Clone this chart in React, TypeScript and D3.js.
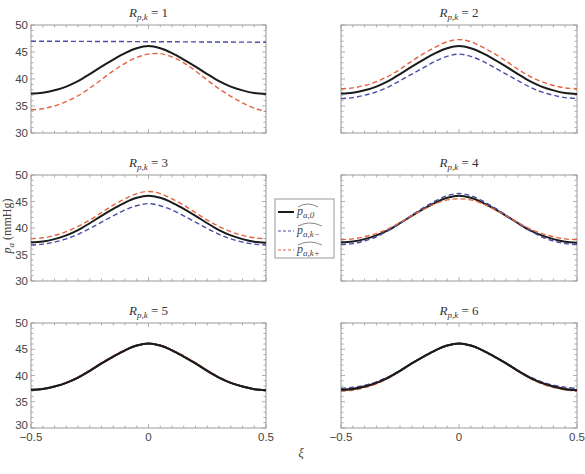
import * as d3 from "d3";

// sample positions along xi
const xiValues = [-0.5, -0.45, -0.4, -0.35, -0.3, -0.25, -0.2, -0.15, -0.1, -0.05, 0, 0.05, 0.1, 0.15, 0.2, 0.25, 0.3, 0.35, 0.4, 0.45, 0.5];

// baseline pressure p_a,0 (same in every panel)
const pBase = [37.3, 37.45, 37.9, 38.6, 39.6, 40.9, 42.3, 43.6, 44.8, 45.7, 46.1, 45.7, 44.8, 43.6, 42.3, 40.9, 39.6, 38.6, 37.9, 37.4, 37.2];

// p_a,k- for R = 1..6
const pMinus1 = [47.0, 47.0, 46.99, 46.98, 46.97, 46.96, 46.95, 46.94, 46.93, 46.92, 46.91, 46.9, 46.89, 46.88, 46.87, 46.86, 46.85, 46.84, 46.83, 46.82, 46.8];
const pMinus2 = [36.4, 36.55, 37.0, 37.6, 38.5, 39.7, 40.9, 42.1, 43.3, 44.2, 44.6, 44.2, 43.3, 42.1, 40.9, 39.7, 38.5, 37.6, 37.0, 36.55, 36.4];
const pMinus3 = [36.8, 36.95, 37.35, 37.95, 38.8, 39.9, 41.1, 42.3, 43.4, 44.2, 44.6, 44.2, 43.4, 42.3, 41.1, 39.9, 38.8, 37.95, 37.35, 36.95, 36.8];
const pMinus4 = [36.9, 37.05, 37.55, 38.35, 39.5, 40.9, 42.4, 43.85, 45.1, 46.1, 46.5, 46.1, 45.1, 43.85, 42.4, 40.9, 39.5, 38.35, 37.55, 37.05, 36.9];
const pMinus5 = [37.3, 37.4, 37.95, 38.6, 39.6, 40.95, 42.3, 43.6, 44.85, 45.75, 46.1, 45.75, 44.85, 43.6, 42.3, 40.95, 39.6, 38.6, 37.9, 37.4, 37.2];
const pMinus6 = [37.6, 37.75, 38.15, 38.8, 39.75, 40.95, 42.3, 43.6, 44.8, 45.7, 46.1, 45.7, 44.8, 43.6, 42.3, 40.95, 39.75, 38.8, 38.15, 37.75, 37.55];

// p_a,k+ for R = 1..6
const pPlus1 = [34.3, 34.5, 35.0, 35.8, 36.9, 38.3, 39.9, 41.5, 42.9, 44.0, 44.6, 44.7, 44.1, 43.0, 41.5, 39.8, 38.2, 36.8, 35.6, 34.6, 34.0];
const pPlus2 = [38.2, 38.35, 38.8, 39.5, 40.5, 41.8, 43.3, 44.7, 45.9, 46.9, 47.3, 46.9, 45.9, 44.7, 43.3, 41.8, 40.5, 39.5, 38.8, 38.35, 38.2];
const pPlus3 = [38.0, 38.15, 38.6, 39.3, 40.3, 41.5, 42.9, 44.3, 45.5, 46.5, 46.9, 46.5, 45.5, 44.3, 42.9, 41.5, 40.3, 39.3, 38.6, 38.15, 38.0];
const pPlus4 = [37.8, 37.95, 38.35, 38.95, 39.85, 41.0, 42.3, 43.5, 44.6, 45.3, 45.5, 45.3, 44.6, 43.5, 42.3, 41.0, 39.85, 38.95, 38.35, 37.95, 37.8];
const pPlus5 = [37.3, 37.5, 37.9, 38.7, 39.7, 41.0, 42.45, 43.75, 44.9, 45.7, 46.0, 45.7, 44.9, 43.75, 42.45, 41.0, 39.7, 38.7, 37.95, 37.45, 37.25];
const pPlus6 = [37.05, 37.2, 37.7, 38.4, 39.45, 40.8, 42.25, 43.6, 44.8, 45.7, 46.1, 45.7, 44.8, 43.6, 42.25, 40.8, 39.45, 38.4, 37.7, 37.25, 37.0];

const rValues = [1, 2, 3, 4, 5, 6];
const minusSeries = [pMinus1, pMinus2, pMinus3, pMinus4, pMinus5, pMinus6];
const plusSeries = [pPlus1, pPlus2, pPlus3, pPlus4, pPlus5, pPlus6];

const yTickLabels = [30, 35, 40, 45, 50];
const xTickLabels = [-0.5, 0, 0.5];

const W = 585;
const H = 474;
const colLeft = [31, 341];
const colRight = [266, 577];
const rowTop = [25, 175, 323];
const rowBottom = [133, 281, 428];

const BLACK = "#1b1b1b";
const BLUE = "#4a4ca6";
const RED = "#e4633d";
const FRAME = "#9a9a9a";
const TICKTXT = "#444";

const serif = "'Liberation Serif', 'Times New Roman', serif";
const sans = "'Liberation Sans', Arial, sans-serif";

function fmt(v: number) {
  if (v === 0) return "0";
  return (v < 0 ? "\u22120" : "0") + "." + String(Math.abs(v)).split(".")[1];
}

function Panel({ idx }: { idx: number }) {
  const col = idx % 2;
  const row = Math.floor(idx / 2);
  const x = d3.scaleLinear().domain([-0.5, 0.5]).range([colLeft[col], colRight[col]]);
  const y = d3.scaleLinear().domain([30, 50]).range([rowBottom[row], rowTop[row]]);
  const line = d3
    .line<number>()
    .x((_, i) => x(xiValues[i]))
    .y((d) => y(d))
    .curve(d3.curveCatmullRom);

  const xMinor = d3.range(-0.5, 0.5001, 0.05);
  const yMinor = d3.range(30, 50.001, 1);
  const [x0, x1] = x.range();
  const [y0, y1] = y.range();

  return (
    <g>
      <rect x={x0} y={y1} width={x1 - x0} height={y0 - y1} fill="white" stroke={FRAME} strokeWidth={1} />
      {xMinor.map((t, i) => {
        const len = i % 10 === 0 ? 4 : 2.5;
        return (
          <g key={"xt" + i} stroke={FRAME} strokeWidth={0.8}>
            <line x1={x(t)} x2={x(t)} y1={y0} y2={y0 - len} />
            <line x1={x(t)} x2={x(t)} y1={y1} y2={y1 + len} />
          </g>
        );
      })}
      {yMinor.map((t, i) => {
        const len = t % 5 === 0 ? 4 : 2.5;
        return (
          <g key={"yt" + i} stroke={FRAME} strokeWidth={0.8}>
            <line x1={x0} x2={x0 + len} y1={y(t)} y2={y(t)} />
            <line x1={x1} x2={x1 - len} y1={y(t)} y2={y(t)} />
          </g>
        );
      })}
      {col === 0 &&
        yTickLabels.map((t) => (
          <text
            key={"yl" + t}
            x={x0 - 3}
            y={y(t) + (row === 2 && t === 30 ? 1 : 4)}
            textAnchor="end"
            fontFamily={sans}
            fontSize={11.5}
            fill={TICKTXT}
          >
            {t}
          </text>
        ))}
      {row === 2 &&
        xTickLabels.map((t) => (
          <text key={"xl" + t} x={x(t)} y={y0 + 13} textAnchor="middle" fontFamily={sans} fontSize={11.5} fill={TICKTXT}>
            {fmt(t)}
          </text>
        ))}
      <path d={line(pBase) || ""} fill="none" stroke={BLACK} strokeWidth={2} />
      <path d={line(minusSeries[idx]) || ""} fill="none" stroke={BLUE} strokeWidth={1.4} strokeDasharray="5,3" />
      <path d={line(plusSeries[idx]) || ""} fill="none" stroke={RED} strokeWidth={1.4} strokeDasharray="5,3" />
      {idx >= 4 && <path d={line(pBase) || ""} fill="none" stroke={BLACK} strokeWidth={2} />}
      <text x={(x0 + x1) / 2} y={y1 - 8} textAnchor="middle" fontFamily={serif} fontSize={13} fill="#333">
        <tspan fontStyle="italic">R</tspan>
        <tspan fontStyle="italic" fontSize={9} dy={3}>p,k</tspan>
        <tspan dy={-3}>{" = " + rValues[idx]}</tspan>
      </text>
    </g>
  );
}

function HatLabel({ x, y, sub }: { x: number; y: number; sub: string }) {
  const w = 9 + sub.length * 4;
  return (
    <g>
      <text x={x} y={y} fontFamily={serif} fontSize={12} fill="#444">
        <tspan fontStyle="italic">p</tspan>
        <tspan fontStyle="italic" fontSize={9} dy={2.5}>{sub}</tspan>
      </text>
      <path
        d={`M${x + 1},${y - 8} Q${x + w / 2},${y - 14} ${x + w},${y - 8}`}
        fill="none"
        stroke="#555"
        strokeWidth={0.7}
      />
    </g>
  );
}

export default function App() {
  const legend = [
    { color: BLACK, dash: "", width: 2, sub: "a,0" },
    { color: BLUE, dash: "3,2", width: 1.2, sub: "a,k\u2212" },
    { color: RED, dash: "3,2", width: 1.2, sub: "a,k+" },
  ];
  return (
    <svg width={W} height={H} style={{ position: "absolute", left: 0, top: 0, background: "white" }}>
      {rValues.map((_, i) => (
        <Panel key={i} idx={i} />
      ))}
      <g>
        <rect x={275} y={199} width={59} height={59} fill="white" stroke={FRAME} strokeWidth={1} />
        {legend.map((l, i) => (
          <g key={i}>
            <line x1={278} x2={294} y1={212 + i * 19} y2={212 + i * 19} stroke={l.color} strokeWidth={l.width} strokeDasharray={l.dash} />
            <HatLabel x={297} y={215 + i * 19} sub={l.sub} />
          </g>
        ))}
      </g>
      <text transform="translate(11,226) rotate(-90)" textAnchor="middle" fontFamily={serif} fontSize={12} fill="#444">
        <tspan fontStyle="italic">p</tspan>
        <tspan fontStyle="italic" fontSize={9} dy={2.5}>a</tspan>
        <tspan dy={-2.5}>{" (mmHg)"}</tspan>
      </text>
      <text x={301} y={457} textAnchor="middle" fontFamily={serif} fontStyle="italic" fontSize={13} fill="#444">
        ξ
      </text>
    </svg>
  );
}
